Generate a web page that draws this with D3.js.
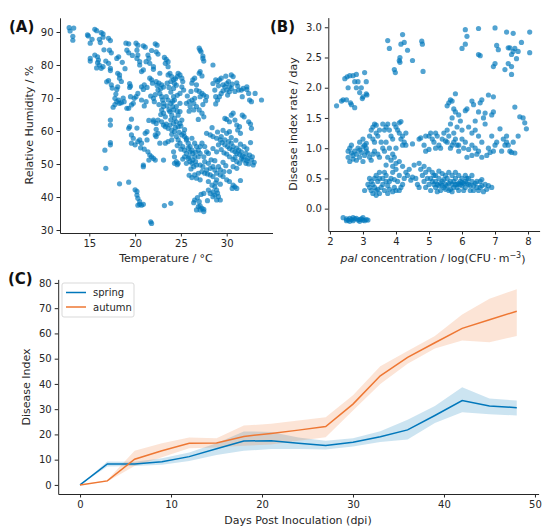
<!DOCTYPE html>
<html>
<head>
<meta charset="utf-8">
<script src="https://cdn.jsdelivr.net/npm/d3@7"></script>
<style>
  body { margin: 0; background: #fff; }
  text { font-family: "DejaVu Sans", sans-serif; }
</style>
</head>
<body>
<svg id="chart" width="550" height="532"></svg>
<script>
// Panel A: temperature (°C) vs relative humidity (%)
const tempRh = [
  [12.8,91.3],[13.3,91.2],[12.9,90.3],[13.2,88.7],[13.2,87.5],[14.8,89.1],[14.9,88.8],[15.1,86.6],[15.6,90.8],[15.8,90.4],
  [15.1,82],[15.1,81.2],[15.6,83],[15.9,82.5],[16,81.5],[15.9,80.7],[16.1,80],[16.3,79],[16.5,79.5],[16.3,89.8],
  [16.5,89.4],[16.5,88.4],[16.1,87.8],[16.2,86.8],[17.1,88.1],[17.3,87.4],[17.2,84.5],[17.4,83.7],[16.8,81.2],[17.1,80.5],
  [17.3,79],[17.3,78.3],[16.9,74.9],[17.1,75.3],[17.4,74],[17.5,73],[18,82],[18.2,82.5],[18.1,77.5],[18.3,77],
  [18.3,76],[18.5,75],[18.1,73.4],[18,72.6],[19,86.6],[19.3,86.4],[19.1,84.5],[19.3,83.7],[20.1,86.6],[20.3,86],
  [20.2,84.5],[20.3,83],[20.2,82],[20.5,81],[20.5,80],[20.9,78.5],[20.7,78],[20.9,85.8],[21.1,85.4],[21.4,83],
  [21.5,82],[21.2,81],[21.6,80.5],[22,79.5],[22,78.7],[22.2,86.4],[22.4,86],[22.3,84],[22.5,83.3],[19.4,74.4],
  [19.5,73.6],[19.4,73.2],[20.7,73.4],[21,74],[20.9,72.6],[21.3,73.2],[21.6,76],[21.8,75.5],[21.9,74.5],[23.2,82.3],
  [23.4,81.7],[23.6,81],[23.3,80.5],[23.6,79.5],[22.3,75],[22.6,74.5],[22.9,74],[23.1,73.3],[22.5,72.4],[22.7,71.4],
  [22.9,70.4],[23,69.4],[23.1,68.4],[23.1,67.4],[22.9,66.4],[23.1,65.4],[23.3,64.3],[23.6,77],[23.8,77.5],[24,76.5],
  [24.2,75.5],[23.9,75],[24.3,74.4],[24.5,73.9],[24.2,72.9],[24.7,77.5],[24.9,77],[25.1,76],[25.2,75],[25.1,73.4],
  [25.3,72.4],[24.9,71.4],[23.4,70.4],[23.6,69.4],[23.9,68.4],[24.1,67.4],[24.2,66.4],[23.8,65.9],[24,64.8],[24.3,63.8],
  [24.5,62.8],[24.2,62.3],[23.8,61.8],[23.4,62.1],[23.3,61.3],[23.6,60.8],[24,60.3],[24.3,59.8],[24.7,61.3],[24.9,62.3],
  [25.1,63.3],[24.7,64.8],[24.9,65.9],[24.5,67.4],[24.9,68.4],[24.3,69.4],[24.2,70.4],[25.3,59.3],[25.4,58.3],[25.1,58.8],
  [25.6,57.3],[25.8,56.3],[26,55.3],[26.2,54.2],[26.3,53.2],[26.5,52.2],[26.3,51.2],[26.6,50.7],[26.7,49.7],[26.4,49.2],
  [26.2,50.2],[25.9,52.2],[25.6,53.2],[25.4,54.2],[25.2,55.3],[24.9,56.3],[24.7,57.3],[24.5,58.3],[23.6,56.8],[24,57.3],
  [23.3,56.3],[22.7,56.3],[22.3,58.3],[22.5,59.3],[23.1,61.8],[22.9,62.8],[22.5,63.3],[22.3,62.3],[22,62.8],[22.2,58.8],
  [24.2,53.7],[24.3,52.2],[24.5,50.7],[24.3,50.2],[24.7,50.2],[23.2,37.4],[23.9,38.1],[26.3,75.5],[26.5,76],[26.2,74.5],
  [26.7,74],[27,77.5],[27.1,78],[27.3,76.7],[26.7,72.4],[27,72],[27.3,71.4],[27.5,70.9],[27.8,70.4],[27.1,70.4],
  [26.5,69.9],[26.2,69.4],[25.9,68.9],[25.6,68.4],[26.4,68.4],[26.7,67.4],[27,66.4],[27.3,65.4],[26.4,66.4],[26,67.4],
  [27.5,64.3],[27,85.1],[27.1,84.5],[27.2,84],[27.4,82.7],[27.4,82],[27.5,81.2],[28.5,80],[28.7,72.4],[28.5,74.4],
  [28.8,75.5],[29,75],[29.2,75.5],[29.4,76],[29.6,74],[29.8,73.4],[30,74.4],[30.2,75],[30.3,73.4],[30.5,72.9],
  [30.3,71.9],[30,72.4],[29.4,71.4],[29.2,70.4],[30.5,77],[30.7,76.5],[31.1,74.6],[31.3,72.4],[31.6,72.4],[31.8,72.9],
  [31.7,70.4],[32.2,73.4],[32.2,72.6],[32.4,71.4],[32.5,69.4],[32.7,68.9],[33.1,71.4],[33.8,69.4],[28.8,70.4],[29,69.4],
  [28.8,68.2],[29.8,63.8],[30,63.5],[30.3,62.8],[30.5,64.8],[30.7,65.4],[30.9,63.3],[31.1,61.8],[31.4,61.3],[31.2,60.3],
  [31.7,64.8],[31.9,64.3],[31.5,59.3],[32.4,62.8],[32.6,62.1],[32.7,60.8],[27.8,59.3],[28.2,58.8],[28.5,58.3],[28.9,57.8],
  [29.3,57.3],[29.5,56.5],[29.8,55.8],[30.1,55.3],[30.3,54.7],[30.6,54.2],[30.9,53.7],[31.1,53.2],[31.4,52.9],[31.7,52.4],
  [31.9,52.2],[32.3,51.7],[32.7,51.2],[32.9,49.7],[29.4,58.3],[29.8,57.3],[30.2,56.8],[30.5,56.3],[30.7,55.3],[31.1,54.8],
  [31.3,54.2],[31.6,53.7],[32.1,53.2],[32.5,52.7],[29.1,55.8],[29.4,54.4],[29.7,53.4],[30,53],[30.3,52.2],[30.7,51.4],
  [31.1,50.7],[31.4,50.2],[31.8,51.2],[28.5,54.7],[28.9,53.7],[32.1,50.2],[30.7,49.2],[31.1,48.7],[30,59.3],[30.3,59.8],
  [27.1,49.7],[27.4,49.2],[27.8,48.2],[28.2,48.7],[28,50.2],[28.5,49.2],[28.7,48.2],[28.9,47.2],[29.1,49.2],[29.3,48.2],
  [29.3,46.7],[29.6,46.2],[30,45.2],[30.3,44.7],[28.9,45.2],[28.5,46.2],[28.2,46.7],[27.6,47.2],[27.3,47.7],[26.9,47.2],
  [26.5,46.7],[26.7,45.7],[27.1,45.2],[28,44.7],[28.4,43.6],[28.7,43.1],[28.9,42.1],[28.5,41.6],[28.2,41.1],[28.7,40.6],
  [29.1,40.1],[28.9,39.1],[29.3,39.1],[28.5,40.1],[28,42.1],[27.5,41.1],[27.2,40.8],[26.5,39.1],[26.4,38.3],[27,38.6],
  [27.1,37.3],[27.3,36.6],[27.5,36.3],[27.5,35.6],[26.9,37.1],[26.7,36.1],[27.1,36.1],[30.7,43.6],[30.9,43.1],[31.1,42.6],
  [30.6,42.6],[26.9,52.2],[27.1,53.2],[26.9,54.2],[26.7,55.3],[26.5,56.3],[26.2,57.8],[25.6,57.8],[26,53.7],[25.8,51.7],
  [25.4,52.2],[25.6,50.2],[27.1,55.3],[27.3,56.3],[27.6,55.3],[27.8,53.7],[27.5,52.2],[27.6,50.7],[28,53.2],[18.3,44],
  [19.3,44.5],[16.8,48.7],[16.7,54.2],[17.3,56.5],[17.3,55.8],[17.3,63.3],[17.3,61.8],[17.6,67.2],[17.8,68],[18,68.9],
  [18.2,69.4],[17.8,69.9],[18.3,68.4],[18.5,68.6],[18.8,68.9],[19.3,66.9],[19.1,66.9],[19.6,67.9],[19.8,68.4],[19.9,69.9],
  [20.1,70.4],[20.3,71.4],[19.5,70.4],[20.7,69.4],[21,67.6],[21.2,68.9],[22.1,68.9],[22,69.9],[19.3,60.8],[19.4,61.3],
  [19.6,58.8],[19.8,57.8],[19.6,56.3],[20,55.8],[20.3,56.8],[20.5,57.3],[20.7,56.3],[21.3,57.3],[21.1,59.3],[21.3,59.8],
  [21.4,53.7],[21.6,52.7],[21.8,52.2],[22,51.7],[21.5,51.2],[22.2,51.2],[20.9,49.2],[20.9,49.7],[20,42.2],[20.2,41.7],
  [20.2,40.6],[20.3,39.6],[20.5,38.6],[20.5,37.8],[20.7,37.5],[20.9,37.8],[20.3,37.5],[21.7,32.5],[21.8,32],[22,63.3],
  [23.1,51.2],[24.6,49.8],
  [22.4,73.8],[22.8,72.9],[23.5,74.5],[23.7,73.2],[24.4,75.8],[24.6,76.5],[23.9,71.8],[24.6,70.8],[24.1,69.0],[23.5,67.6],
  [23.7,66.4],[24.6,66.0],[23.9,63.4],[24.4,61.0],[24.0,59.0],[24.8,59.6],[25.0,61.5],[25.4,60.4],[24.6,55.6],[25.0,54.5],
  [25.8,54.8],[26.0,50.8],[25.2,51.5],[26.6,53.6],[26.1,48.5],[25.9,46.6],[26.2,45.9],[28.3,51.3],[28.7,51.0],[29.6,50.5],
  [29.9,49.5],[30.9,52.0],[31.6,51.6],[32.2,51.0],[32.4,50.0],[32.8,52.2],[30.5,58.0],[31.0,57.2],[31.5,56.0],[31.9,55.3],
  [32.2,54.6],[29.0,59.7],[29.6,60.2],[28.4,61.0],[29.1,73.7],[29.6,72.2],[30.6,74.2],[30.9,72.0],[31.2,73.6],[29.9,76.6],
  [30.1,70.9],[27.4,68.0],[27.7,69.2],[26.1,72.0],[25.7,70.6],[25.9,66.0],[26.9,63.5],[27.9,47.0],[28.8,44.3],[29.3,43.9],
  [29.7,47.7],[29.0,41.2],[27.9,38.9],[26.8,39.8],[22.7,77.5],[22.6,68.0],[22.8,65.0],[22.2,71.0],[21.7,70.6],[22.3,60.5],
  [21.0,54.5],[20.6,54.9],[18.6,80.8],[18.9,78.9],[19.7,82.9],[21.8,84.4],[16.6,84.6],[15.3,87.8],[15.8,79.1],[17.9,71.2],
  [18.7,70.0],[19.6,63.6],[20.2,60.9],[21.5,63.2],[31.5,45.0],[30.3,47.7],[32.6,56.5],[33.0,50.5]
];

// Panel B: pal concentration (log CFU/m3) vs disease index rate (/day)
const palRate = [
  [2.4,-0.15],[2.5,-0.17],[2.55,-0.19],[2.6,-0.16],[2.65,-0.18],[2.7,-0.2],[2.75,-0.17],[2.8,-0.16],[2.85,-0.19],[2.9,-0.18],
  [2.95,-0.17],[3.0,-0.19],[3.05,-0.2],[3.1,-0.18],[3.15,-0.19],[2.5,-0.2],[2.7,-0.15],[2.9,-0.21],[3.0,-0.15],[2.6,-0.21],
  [2.2,1.7],[2.4,1.8],[2.45,2.15],[2.5,1.8],[2.55,2.0],[2.6,2.2],[2.65,1.72],[2.7,2.2],[2.75,2.1],[2.8,2.0],
  [2.75,1.67],[2.8,2.22],[2.85,2.1],[2.9,1.92],[2.95,2.0],[3.0,1.85],[3.05,2.25],[3.1,2.1],[3.1,1.9],[3.12,1.88],
  [2.35,1.78],[2.52,2.18],[2.62,1.75],[2.98,1.82],
  [3.75,2.78],[3.8,2.65],[3.95,2.3],[3.98,2.25],[4.1,2.45],[4.12,2.5],[4.15,2.72],[4.2,2.88],[4.25,2.75],[4.35,2.62],
  [4.5,2.45],[4.78,2.77],[4.8,2.72],[4.82,2.27],[4.12,2.42],
  [6.0,2.65],[6.1,2.72],[6.1,2.96],[6.15,2.85],[6.5,2.98],[6.5,2.55],[6.55,2.53],[7.0,2.99],[6.95,2.35],[7.0,2.4],
  [7.05,2.7],[7.1,2.63],[7.3,2.3],[7.35,2.92],[7.4,2.66],[7.45,2.66],[7.4,2.4],[7.5,2.55],[7.5,2.22],[7.55,2.9],
  [7.55,2.6],[7.6,2.65],[7.7,2.6],[7.8,2.75],[8.05,2.92],[8.05,2.58],[7.5,2.35],[7.65,2.48],
  [5.6,1.75],[5.65,1.8],[5.7,1.78],[5.8,1.9],[5.55,1.7],[5.75,1.65],[5.8,1.6],[5.9,1.55],[5.95,1.45],[5.7,1.5],
  [5.65,1.4],[5.85,1.35],[6.0,1.3],[6.1,1.62],[6.15,1.65],[6.3,1.78],[6.35,1.72],[6.4,1.45],[6.5,1.6],[6.55,1.75],
  [6.6,1.8],[6.65,1.5],[6.7,1.4],[6.4,1.3],[6.3,1.25],[6.2,1.35],[6.5,1.2],[6.6,1.1],[6.7,1.58],[6.8,1.88],
  [6.95,1.85],[6.95,1.6],[6.9,1.55],[7.15,1.32],[7.25,1.15],[7.35,1.2],[7.4,1.05],[7.45,0.95],[7.5,0.93],[7.6,0.92],
  [7.6,1.68],[7.7,1.2],[7.75,1.52],[7.85,1.5],[7.9,1.42],[7.95,1.32],[7.55,1.1],[7.3,1.05],[7.0,1.05],[7.05,1.1],
  [6.95,0.95],[6.85,0.93],[6.8,1.0],[6.75,0.88],[6.5,0.95],[6.45,0.9],[6.4,1.0],[6.3,1.05],[6.2,0.98],[6.1,1.1],
  [6.15,0.85],[6.05,1.0],[5.9,1.05],[6.0,1.15],[6.9,1.2],[7.2,0.95],[7.35,1.1],[6.6,0.85],[6.3,0.88],
  [4.7,1.15],[4.75,1.17],[4.5,1.07],[4.85,1.05],[4.9,1.2],[5.0,1.2],[5.05,1.25],[5.1,1.15],[5.15,1.1],[5.2,1.25],
  [5.25,1.2],[5.3,1.05],[5.35,1.0],[5.4,1.15],[5.5,1.12],[5.55,1.1],[5.6,1.2],[5.65,1.0],[5.7,1.05],[5.75,1.1],
  [5.8,1.15],[5.85,1.05],[5.9,0.95],[5.0,0.98],[4.9,0.95],[5.45,1.25],[5.55,1.3],[4.3,1.05],[5.2,1.0],[5.75,1.25],
  [2.55,0.95],[2.6,1.0],[2.65,0.92],[2.7,0.88],[2.75,0.95],[2.8,0.9],[2.85,1.0],[2.9,0.97],[2.95,0.93],[3.0,1.02],
  [3.05,0.88],[3.1,0.95],[2.55,0.85],[2.6,0.78],[2.7,0.82],[2.8,0.8],[2.9,0.85],[3.0,0.78],[3.05,1.05],[3.1,1.0],
  [3.15,0.92],[3.2,0.85],[3.25,0.8],[3.3,0.9],[3.35,0.95],[3.2,1.2],[3.25,1.3],[3.3,1.35],[3.35,1.4],[3.4,1.25],
  [3.4,1.38],[3.3,1.15],[3.35,1.1],[3.45,1.2],[3.5,1.3],[3.55,1.1],[3.6,1.0],[3.65,0.95],[3.7,1.35],[3.75,1.4],
  [3.8,1.3],[3.85,1.2],[3.9,1.15],[3.8,1.0],[3.9,0.9],[3.95,1.4],[4.0,1.35],[4.05,1.3],[4.1,1.42],[4.15,1.44],
  [4.1,1.25],[4.15,1.15],[4.2,1.2],[4.2,1.05],[4.25,1.1],[3.6,1.4],[3.65,1.3],[3.7,1.1],[3.75,0.85],[3.85,0.8],
  [3.95,0.85],[4.0,1.0],[3.5,0.85],[3.45,0.9],[2.65,1.05],[2.9,1.1],[3.0,1.15],[3.1,1.08],[4.3,1.25],[4.0,0.75],
  [4.1,0.78],[3.9,0.7],[3.7,0.72],
  [3.05,0.3],[3.2,0.5],[3.25,0.45],[3.3,0.4],[3.35,0.35],[3.4,0.3],[3.45,0.45],[3.5,0.5],[3.3,0.25],[3.25,0.3],
  [3.4,0.22],[3.5,0.25],[3.55,0.35],[3.6,0.4],[3.65,0.3],[3.7,0.45],[3.75,0.38],[3.8,0.32],[3.85,0.5],[3.9,0.6],
  [3.95,0.35],[4.0,0.3],[4.05,0.45],[4.1,0.55],[4.15,0.35],[4.2,0.4],[4.25,0.5],[4.3,0.6],[4.35,0.55],[4.45,0.47],
  [4.5,0.52],[3.6,0.5],[3.5,0.6],[3.7,0.55],[3.4,0.55],[3.2,0.35],[3.35,0.5],[4.1,0.3],[3.9,0.28],[3.8,0.45],
  [3.65,0.6],[4.0,0.65],[4.2,0.7],[4.4,0.65],[3.15,0.4],[3.45,0.32],[3.75,0.25],[3.95,0.48],
  [4.75,0.65],[4.8,0.55],[4.85,0.45],[4.9,0.35],[4.95,0.5],[5.0,0.4],[5.05,0.3],[5.1,0.45],[5.15,0.55],[5.2,0.35],
  [5.25,0.4],[5.3,0.5],[5.35,0.3],[5.4,0.45],[5.45,0.35],[5.5,0.4],[5.55,0.5],[5.6,0.3],[5.65,0.45],[5.7,0.4],
  [5.75,0.35],[5.8,0.5],[5.85,0.4],[5.9,0.3],[5.95,0.45],[6.0,0.38],[6.05,0.42],[6.1,0.35],[6.15,0.5],[6.2,0.4],
  [6.25,0.3],[6.3,0.45],[6.35,0.38],[6.4,0.42],[6.45,0.35],[6.5,0.3],[6.55,0.45],[6.6,0.38],[6.65,0.28],[6.7,0.4],
  [6.8,0.38],[4.85,0.7],[4.9,0.6],[5.0,0.65],[5.1,0.6],[5.2,0.55],[5.3,0.62],[5.4,0.58],[5.5,0.55],[5.6,0.6],
  [5.7,0.55],[5.8,0.6],[5.9,0.55],[6.0,0.5],[6.1,0.55],[6.2,0.5],[6.3,0.55],[5.05,0.5],[5.15,0.4],[5.25,0.28],
  [5.35,0.42],[5.45,0.48],[5.55,0.38],[5.65,0.32],[5.75,0.45],[5.85,0.35],[5.95,0.4],[6.05,0.3],[6.15,0.42],[6.25,0.38],
  [6.35,0.3],[6.45,0.45],[6.55,0.35],[6.6,0.48],[5.3,0.38],[5.5,0.32],[5.7,0.28],[5.9,0.42],[6.1,0.45],[5.2,0.45],
  [5.4,0.38],[5.6,0.42],[5.8,0.4],[6.0,0.43],[4.6,0.5],[4.65,0.4],[4.7,0.35],[6.9,0.35],[6.75,0.32],[4.55,0.72],
  [4.7,0.75]
];

// Panel C: disease index over days post inoculation, mean and band
const days = [0, 3, 6, 9, 12, 15, 18, 21, 24, 27, 30, 33, 36, 39, 42, 45, 48];
const springMean = [0, 8.3, 8.3, 9.2, 11.2, 14.3, 17.4, 17.5, 16.5, 15.6, 16.9, 19.1, 21.8, 27.5, 33.4, 31.3, 30.6];
const springLo   = [0, 7.3, 7.5, 8.0, 9.5, 11.8, 13.5, 14.2, 14.2, 14.0, 15.2, 17.0, 18.0, 24.5, 28.8, 28.0, 27.5];
const springHi   = [0, 9.3, 9.2, 10.6, 12.8, 16.5, 21.2, 21.0, 18.8, 17.5, 18.5, 21.3, 25.8, 31.3, 38.7, 34.2, 33.4];
const autumnMean = [0, 1.6, 10.2, 13.5, 16.5, 16.6, 19.2, 20.4, 21.7, 23.1, 32.0, 43.2, 50.5, 56.3, 62.0, 65.4, 68.8];
const autumnLo   = [0, 1.4, 7.5, 11.0, 14.5, 14.8, 15.5, 16.0, 17.5, 18.9, 29.5, 40.0, 48.0, 54.0, 57.2, 56.5, 59.0];
const autumnHi   = [0, 1.9, 13.5, 16.5, 18.8, 18.5, 23.5, 24.2, 25.5, 26.8, 35.5, 47.0, 53.0, 59.0, 67.5, 73.7, 77.5];

const ticksA = { x: [15, 20, 25, 30], y: [30, 40, 50, 60, 70, 80, 90] };
const ticksB = { x: [2, 3, 4, 5, 6, 7, 8], y: [0, 0.5, 1.0, 1.5, 2.0, 2.5, 3.0] };
const ticksC = { x: [0, 10, 20, 30, 40, 50], y: [0, 10, 20, 30, 40, 50, 60, 70, 80] };

const BLUE = '#0077bb';
const ORANGE = '#ee7733';
const AXIS = '#262626';

const svg = d3.select('#chart');

/**
 * Draw left and bottom spines with outward ticks (despined style).
 */
function drawAxes(g, x, y, xTicks, yTicks, yFormat) {
    const [x0] = x.range();
    const [y0] = y.range();

    g.append('g')
        .attr('transform', `translate(0, ${y0})`)
        .call(d3.axisBottom(x).tickValues(xTicks).tickSize(3.5).tickPadding(3).tickSizeOuter(0)
            .tickFormat(d3.format('d')))
        .call(a => a.select('.domain').attr('stroke', AXIS))
        .call(a => a.selectAll('.tick line').attr('stroke', AXIS))
        .call(a => a.selectAll('text').attr('font-size', '10px').attr('fill', AXIS)
            .attr('font-family', '"DejaVu Sans", sans-serif'));

    g.append('g')
        .attr('transform', `translate(${x0}, 0)`)
        .call(d3.axisLeft(y).tickValues(yTicks).tickSize(3.5).tickPadding(3).tickSizeOuter(0)
            .tickFormat(yFormat || d3.format('d')))
        .call(a => a.select('.domain').attr('stroke', AXIS))
        .call(a => a.selectAll('.tick line').attr('stroke', AXIS))
        .call(a => a.selectAll('text').attr('font-size', '10px').attr('fill', AXIS)
            .attr('font-family', '"DejaVu Sans", sans-serif'));
}

function yLabel(g, cx, cy, label) {
    g.append('text')
        .attr('transform', `translate(${cx}, ${cy}) rotate(-90)`)
        .attr('text-anchor', 'middle')
        .attr('font-size', '11px')
        .attr('fill', AXIS)
        .text(label);
}

function xLabel(g, cx, cy, label) {
    return g.append('text')
        .attr('x', cx)
        .attr('y', cy)
        .attr('text-anchor', 'middle')
        .attr('font-size', '11px')
        .attr('fill', AXIS)
        .text(label);
}

function panelTag(label, x, y) {
    svg.append('text')
        .attr('x', x)
        .attr('y', y)
        .attr('font-size', '15px')
        .attr('font-weight', 'bold')
        .attr('fill', '#111')
        .text(label);
}

function scatter(g, data, x, y) {
    g.append('g')
        .selectAll('circle')
        .data(data)
        .join('circle')
        .attr('cx', d => x(d[0]))
        .attr('cy', d => y(d[1]))
        .attr('r', 2.6)
        .attr('fill', BLUE)
        .attr('fill-opacity', 0.68);
}

// ---- Panel A ----
const gA = svg.append('g');
const xA = d3.scaleLinear().domain([11.8, 35.0]).range([60, 272.5]);
const yA = d3.scaleLinear().domain([29.1, 94.3]).range([233, 17.8]);
scatter(gA, tempRh, xA, yA);
drawAxes(gA, xA, yA, ticksA.x, ticksA.y);
yLabel(gA, 33, 125, 'Relative Humidity / %');
xLabel(gA, 166, 262, 'Temperature / °C');
panelTag('(A)', 9, 32);

// ---- Panel B ----
const gB = svg.append('g');
const xB = d3.scaleLinear().domain([1.95, 8.35]).range([328.3, 539.6]);
const yB = d3.scaleLinear().domain([-0.37, 3.16]).range([231, 17.6]);
scatter(gB, palRate, xB, yB);
drawAxes(gB, xB, yB, ticksB.x, ticksB.y, d3.format('.1f'));
yLabel(gB, 297, 124, 'Disease index rate / day');
const xlB = xLabel(gB, 433, 262, '');
xlB.append('tspan').attr('font-style', 'italic').text('pal');
xlB.append('tspan').text(' concentration / log(CFU\u2009\u00b7\u2009m');
xlB.append('tspan').attr('font-size', '8px').attr('dy', '-0.45em').text('\u22123');
xlB.append('tspan').attr('dy', '0.45em').text(')');
panelTag('(B)', 270, 32);

// ---- Panel C ----
const gC = svg.append('g');
const xC = d3.scaleLinear().domain([-2.4, 50.4]).range([58.2, 538.6]);
const yC = d3.scaleLinear().domain([-3.6, 81.4]).range([494, 279.4]);

const series = [
    { name: 'spring', color: BLUE, mean: springMean, lo: springLo, hi: springHi },
    { name: 'autumn', color: ORANGE, mean: autumnMean, lo: autumnLo, hi: autumnHi }
];

const band = d3.area()
    .x((d, i) => xC(days[i]))
    .y0(d => yC(d[0]))
    .y1(d => yC(d[1]));

const line = d3.line()
    .x((d, i) => xC(days[i]))
    .y(d => yC(d));

series.forEach(s => {
    gC.append('path')
        .datum(s.lo.map((v, i) => [v, s.hi[i]]))
        .attr('d', band)
        .attr('fill', s.color)
        .attr('fill-opacity', 0.2)
        .attr('stroke', 'none');
});
series.forEach(s => {
    gC.append('path')
        .datum(s.mean)
        .attr('d', line)
        .attr('fill', 'none')
        .attr('stroke', s.color)
        .attr('stroke-width', 1.5);
});

drawAxes(gC, xC, yC, ticksC.x, ticksC.y);
yLabel(gC, 30, 387, 'Disease Index');
xLabel(gC, 298, 524, 'Days Post Inoculation (dpi)');
panelTag('(C)', 8, 284);

// legend
const legend = gC.append('g').attr('transform', 'translate(62, 283)');
legend.append('rect')
    .attr('width', 72)
    .attr('height', 34)
    .attr('rx', 2)
    .attr('fill', '#fff')
    .attr('fill-opacity', 0.8)
    .attr('stroke', '#d9d9d9');
series.forEach((s, i) => {
    const ly = 9.5 + i * 14.5;
    legend.append('line')
        .attr('x1', 4).attr('x2', 24)
        .attr('y1', ly).attr('y2', ly)
        .attr('stroke', s.color)
        .attr('stroke-width', 1.5);
    legend.append('text')
        .attr('x', 31)
        .attr('y', ly + 3.5)
        .attr('font-size', '10px')
        .attr('fill', AXIS)
        .text(s.name);
});
</script>
</body>
</html>
